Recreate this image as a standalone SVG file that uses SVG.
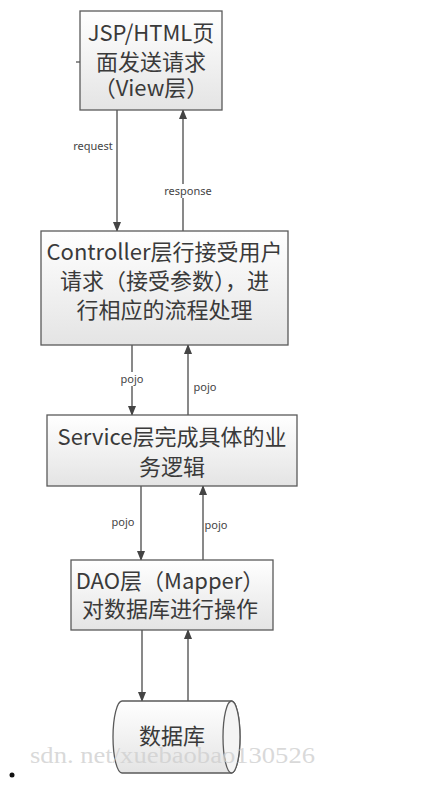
<svg xmlns="http://www.w3.org/2000/svg" width="421" height="789" viewBox="0 0 421 789">
<defs>
<linearGradient id="g" x1="0" y1="0" x2="0" y2="1">
<stop offset="0" stop-color="#ffffff"/>
<stop offset="1" stop-color="#e4e4e4"/>
</linearGradient>
<marker id="ah" markerWidth="10" markerHeight="10" refX="9" refY="4" orient="auto" markerUnits="userSpaceOnUse">
<path d="M0,0 L10,4 L0,8 Z" fill="#444"/>
</marker>
<style>
.box{fill:url(#g);stroke:#5a5a5a;stroke-width:1.3}
.t{font-family:"Noto Sans CJK SC","Noto Sans",sans-serif;font-size:22px;fill:#3a3a3a;text-anchor:middle}
.l{font-family:"Noto Sans","Noto Sans CJK SC",sans-serif;font-size:11px;fill:#444;text-anchor:middle}
.c{stroke:#4a4a4a;stroke-width:1.3;fill:none;marker-end:url(#ah)}
</style>
</defs>
<rect width="421" height="789" fill="#ffffff"/>
<g id="connectors">
<line class="c" x1="117" y1="110" x2="117" y2="231"/>
<line class="c" x1="183" y1="231" x2="183" y2="110"/>
<line class="c" x1="132" y1="345" x2="132" y2="415"/>
<line class="c" x1="188" y1="415" x2="188" y2="345"/>
<line class="c" x1="141" y1="486" x2="141" y2="560"/>
<line class="c" x1="203" y1="560" x2="203" y2="486"/>
<line class="c" x1="142" y1="630" x2="142" y2="701"/>
<line class="c" x1="188" y1="701" x2="188" y2="630"/>
<text class="l" x="93" y="150">request</text>
<rect x="164" y="184" width="48" height="14" fill="#fff"/>
<text class="l" x="188" y="195">response</text>
<rect x="121" y="372" width="22" height="14" fill="#fff"/>
<text class="l" x="132" y="383">pojo</text>
<text class="l" x="205" y="391">pojo</text>
<text class="l" x="123" y="526">pojo</text>
<text class="l" x="216" y="529">pojo</text>
</g>
<g id="view">
<rect class="box" x="80" y="11" width="142" height="99"/>
<text class="t" x="151" y="41">JSP/HTML页</text>
<text class="t" x="151" y="70">面发送请求</text>
<text class="t" x="151" y="96">（View层）</text>
</g>
<line x1="76" y1="62" x2="80" y2="62" stroke="#555" stroke-width="1.3"/>
<g id="controller">
<rect class="box" x="41" y="231" width="247" height="114"/>
<text class="t" x="164.5" y="260">Controller层行接受用户</text>
<text class="t" x="164.5" y="289">请求（接受参数），进</text>
<text class="t" x="164.5" y="318">行相应的流程处理</text>
</g>
<g id="service">
<rect class="box" x="47" y="415" width="250" height="71"/>
<text class="t" x="172" y="445">Service层完成具体的业</text>
<text class="t" x="172" y="475">务逻辑</text>
</g>
<g id="dao">
<rect class="box" x="71" y="560" width="202" height="70"/>
<text class="t" x="170" y="589">DAO层（Mapper）</text>
<text class="t" x="170" y="617">对数据库进行操作</text>
</g>
<g id="db">
<path class="box" d="M122,701 H231.5 A8.5,36 0 0 1 231.5,773 H122 A9,36 0 0 1 122,701 Z"/>
<ellipse cx="231.5" cy="737" rx="8.5" ry="36" fill="#f4f4f4" stroke="#5a5a5a" stroke-width="1.3"/>
<text class="t" x="172" y="744">数据库</text>
</g>
<text x="30" y="763" font-family="Liberation Serif, serif" font-size="23" fill="#cfcfcf" fill-opacity="0.8" textLength="285" lengthAdjust="spacingAndGlyphs">sdn. net/xuebaobao130526</text>
<circle cx="12" cy="775" r="2.5" fill="#111"/>
</svg>
